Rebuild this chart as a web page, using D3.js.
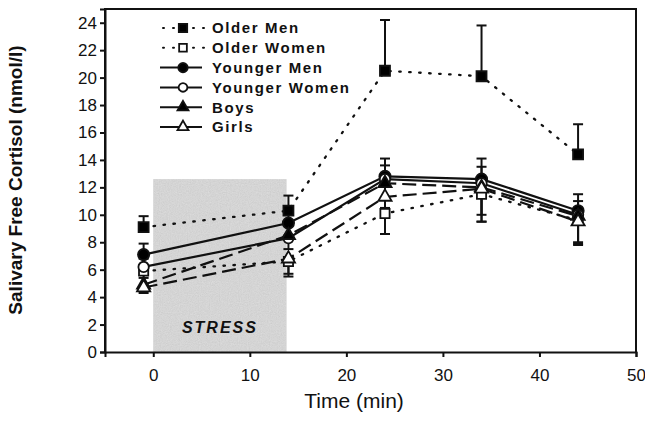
<!DOCTYPE html>
<html>
<head>
<meta charset="utf-8">
<script src="https://cdn.jsdelivr.net/npm/d3@7"></script>
<style>
  body { margin: 0; background: #fff; }
  svg { display: block; font-family: "Liberation Sans", Arial, sans-serif; }
</style>
</head>
<body>
<svg width="645" height="424"></svg>
<script>
// Data (sampling times in min, cortisol in nmol/l)
const times = [-1, 14, 24, 34, 44];
const groups = ["Older Men", "Older Women", "Younger Men", "Younger Women", "Boys", "Girls"];
const olderMen     = [9.1, 10.3, 20.5, 20.1, 14.4];
const olderWomen   = [5.9, 6.6, 10.1, 11.5, 9.6];
const youngerMen   = [7.1, 9.4, 12.8, 12.6, 10.3];
const youngerWomen = [6.2, 8.3, 12.6, 12.3, 10.0];
const boys         = [4.9, 8.5, 12.3, 12.0, 9.9];
const girls        = [4.7, 6.8, 11.3, 11.9, 9.5];
// SEM (only one side of each bar is visible in the figure)
const olderMenErr     = [0.8, 1.1, 3.7, 3.7, 2.2];
const olderWomenErr   = [0.5, 1.1, 1.5, 2.0, 1.8];
const youngerMenErr   = [0.8, 1.0, 1.3, 1.5, 1.2];
const youngerWomenErr = [0.6, 1.1, 1.0, 1.2, 1.0];
const boysErr         = [0.4, 1.0, 1.8, 2.0, 2.0];
const girlsErr        = [0.4, 1.1, 1.2, 2.4, 1.5];
const stressPeriod = [0, 13.8];
const stressTop = 12.6;
const xTicks = [0, 10, 20, 30, 40, 50];
const yTicks = [0, 2, 4, 6, 8, 10, 12, 14, 16, 18, 20, 22, 24];

const values = [olderMen, olderWomen, youngerMen, youngerWomen, boys, girls];
const errors = [olderMenErr, olderWomenErr, youngerMenErr, youngerWomenErr, boysErr, girlsErr];

// how each group is drawn
const dotted = "1.5,8.5", dashed = "14,6";
const styles = {
  "Older Men":     { sym: d3.symbolSquare,   size: 100, fill: "#000", dash: dotted, dir: 1 },
  "Older Women":   { sym: d3.symbolSquare,   size: 85,  fill: "#fff", dash: dotted, dir: -1 },
  "Younger Men":   { sym: d3.symbolCircle,   size: 100, fill: "#000", dash: null,   dir: 1 },
  "Younger Women": { sym: d3.symbolCircle,   size: 85,  fill: "#fff", dash: null,   dir: 1 },
  "Boys":          { sym: d3.symbolTriangle, size: 75,  fill: "#000", dash: dashed, dir: -1 },
  "Girls":         { sym: d3.symbolTriangle, size: 75,  fill: "#fff", dash: dashed, dir: -1 }
};

const series = groups.map((g, i) => ({
  name: g,
  pts: times.map((t, j) => ({ t: t, v: values[i][j], e: errors[i][j] })),
  st: styles[g]
}));

const svg = d3.select("svg");
const margin = { left: 105, top: 9, right: 9, bottom: 72 };
const W = 645 - margin.left - margin.right,
      H = 424 - margin.top - margin.bottom;

const x = d3.scaleLinear().domain([-5, 50]).range([0, W]);
const y = d3.scaleLinear().domain([0, 25]).range([H, 0]);

const g = svg.append("g").attr("transform", `translate(${margin.left},${margin.top})`);

// grainy grey for the stress box
const defs = svg.append("defs");
const f = defs.append("filter").attr("id", "grain");
f.append("feTurbulence").attr("type", "fractalNoise").attr("baseFrequency", 0.9)
  .attr("numOctaves", 2).attr("seed", 3).attr("result", "n");
f.append("feColorMatrix").attr("in", "n").attr("type", "matrix")
  .attr("values", "0 0 0 0 0.79  0 0 0 0 0.79  0 0 0 0 0.79  0.5 0.5 0 0 -0.15")
  .attr("result", "c");
f.append("feComposite").attr("in", "c").attr("in2", "SourceGraphic").attr("operator", "in").attr("result", "cc");
f.append("feMerge").call(m => {
  m.append("feMergeNode").attr("in", "SourceGraphic");
  m.append("feMergeNode").attr("in", "cc");
});

g.append("rect")
  .attr("x", x(stressPeriod[0]))
  .attr("y", y(stressTop))
  .attr("width", x(stressPeriod[1]) - x(stressPeriod[0]))
  .attr("height", y(0) - y(stressTop))
  .attr("fill", "#cacaca")
  .attr("filter", "url(#grain)");

g.append("text")
  .attr("x", x((stressPeriod[0] + stressPeriod[1]) / 2))
  .attr("y", y(1.35))
  .attr("text-anchor", "middle")
  .attr("font-weight", "bold")
  .attr("font-style", "italic")
  .attr("font-size", 16)
  .attr("letter-spacing", 2)
  .attr("fill", "#111")
  .text("STRESS");

// frame
g.append("path")
  .attr("d", `M0,${H}V0H${W}V${H}`)
  .attr("fill", "none").attr("stroke", "#111").attr("stroke-width", 2);

// axes
const yAxis = g.append("g")
  .call(d3.axisLeft(y).tickValues(yTicks).tickSize(5).tickPadding(3));
const xAxis = g.append("g").attr("transform", `translate(0,${H})`)
  .call(d3.axisBottom(x).tickValues(xTicks).tickSize(5).tickPadding(12));
[xAxis, yAxis].forEach(a => {
  a.select(".domain").attr("stroke-width", 2).attr("stroke", "#111");
  a.selectAll(".tick line").attr("stroke-width", 2).attr("stroke", "#111");
  a.selectAll(".tick text").attr("font-size", 17).attr("fill", "#111")
    .attr("font-family", "Liberation Sans, Arial, sans-serif");
});

// axis titles
svg.append("text")
  .attr("transform", `translate(22,${180}) rotate(-90)`)
  .attr("text-anchor", "middle")
  .attr("font-weight", "bold")
  .attr("font-size", 19)
  .attr("fill", "#111")
  .text("Salivary Free Cortisol (nmol/l)");

svg.append("text")
  .attr("x", margin.left + x(20.8))
  .attr("y", 408)
  .attr("text-anchor", "middle")
  .attr("font-size", 21)
  .attr("fill", "#111")
  .text("Time (min)");

// lines
const isDot = d => d.st.dash === dotted;
const line = d3.line().x(d => x(d.t)).y(d => y(d.v));
g.selectAll(".series-line")
  .data(series)
  .join("path")
  .attr("class", "series-line")
  .attr("d", d => line(d.pts))
  .attr("fill", "none")
  .attr("stroke", "#111")
  .attr("stroke-width", d => isDot(d) ? 2.3 : 2.2)
  .attr("stroke-linecap", d => isDot(d) ? "round" : "butt")
  .attr("stroke-dasharray", d => d.st.dash);

// error bars (one-sided)
const eb = g.selectAll(".eb")
  .data(series.flatMap(s => s.pts.map(p => ({ p: p, dir: s.st.dir }))))
  .join("g").attr("class", "eb");
eb.append("line")
  .attr("x1", d => x(d.p.t)).attr("x2", d => x(d.p.t))
  .attr("y1", d => y(d.p.v)).attr("y2", d => y(d.p.v + d.dir * d.p.e))
  .attr("stroke", "#111").attr("stroke-width", 2);
eb.append("line")
  .attr("x1", d => x(d.p.t) - 5).attr("x2", d => x(d.p.t) + 5)
  .attr("y1", d => y(d.p.v + d.dir * d.p.e)).attr("y2", d => y(d.p.v + d.dir * d.p.e))
  .attr("stroke", "#111").attr("stroke-width", 2);

// markers
series.forEach(s => {
  g.selectAll(null)
    .data(s.pts)
    .join("path")
    .attr("transform", d => `translate(${x(d.t)},${y(d.v)})`)
    .attr("d", d3.symbol().type(s.st.sym).size(s.st.size))
    .attr("fill", s.st.fill)
    .attr("stroke", "#111")
    .attr("stroke-width", 1.8);
});

// legend
const legRow = g.append("g").selectAll("g")
  .data(series)
  .join("g")
  .attr("transform", (d, i) => `translate(0,${19 + i * 19.8})`);
legRow.append("line")
  .attr("x1", d => isDot(d) ? 58 : 55).attr("x2", d => isDot(d) ? 99 : 97)
  .attr("stroke", "#111")
  .attr("stroke-width", 2)
  .attr("stroke-linecap", d => isDot(d) ? "round" : "butt")
  .attr("stroke-dasharray", d => isDot(d) ? "1,9" : null);
legRow.append("path")
  .attr("transform", "translate(78,0)")
  .attr("d", d => d3.symbol().type(d.st.sym).size(d.st.size * 0.7)())
  .attr("fill", d => d.st.fill)
  .attr("stroke", "#111").attr("stroke-width", 1.8);
legRow.append("text")
  .attr("x", 107).attr("dy", "0.36em")
  .attr("font-weight", "bold")
  .attr("font-size", 15)
  .attr("letter-spacing", 1.6)
  .attr("fill", "#111")
  .text(d => d.name);
</script>
</body>
</html>
